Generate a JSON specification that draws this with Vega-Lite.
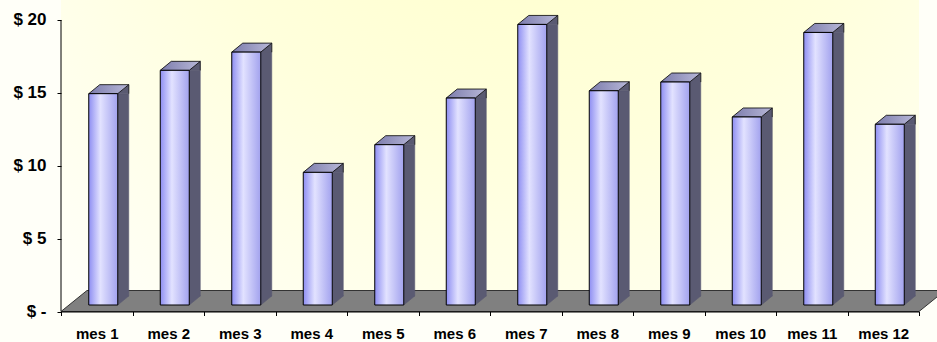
{
  "$schema": "https://vega.github.io/schema/vega-lite/v6.json",
  "autosize": {"type": "none"},
  "width": 858,
  "height": 311.5,
  "padding": {"left": 61, "top": 0, "right": 18, "bottom": 30.5},
  "background": "#fffff8",
  "config": {
    "view": {
      "stroke": null,
      "fill": {
        "gradient": "radial",
        "x1": 0.55, "y1": 0.05, "r1": 0,
        "x2": 0.55, "y2": 0.05, "r2": 0.8,
        "stops": [
          {"offset": 0, "color": "#ffffc4"},
          {"offset": 0.55, "color": "#ffffdc"},
          {"offset": 1, "color": "#fffff8"}
        ]
      }
    },
    "axis": {
      "labelFont": "Liberation Sans",
      "labelFontWeight": "bold",
      "labelColor": "#000000",
      "tickColor": "#000000",
      "domainColor": "#000000",
      "tickSize": 4,
      "title": null,
      "grid": false
    }
  },
  "data": {
    "values": [
      {"mes": "mes 1", "valor": 14.5},
      {"mes": "mes 2", "valor": 16.1},
      {"mes": "mes 3", "valor": 17.35},
      {"mes": "mes 4", "valor": 9.1},
      {"mes": "mes 5", "valor": 11.0},
      {"mes": "mes 6", "valor": 14.2},
      {"mes": "mes 7", "valor": 19.25},
      {"mes": "mes 8", "valor": 14.7},
      {"mes": "mes 9", "valor": 15.3},
      {"mes": "mes 10", "valor": 12.9},
      {"mes": "mes 11", "valor": 18.7},
      {"mes": "mes 12", "valor": 12.4}
    ]
  },
  "encoding": {
    "x": {
      "field": "mes",
      "type": "nominal",
      "sort": null,
      "scale": {"paddingInner": 0, "paddingOuter": 0},
      "axis": {
        "labelAngle": 0,
        "labelFontSize": 15,
        "labelPadding": 11,
        "tickBand": "extent",
        "zindex": 1
      }
    },
    "y": {
      "field": "valor",
      "type": "quantitative",
      "scale": {"domain": [0, 21.372], "nice": false, "zero": true},
      "axis": {
        "values": [0, 5, 10, 15, 20],
        "domain": false,
        "labelFontSize": 17,
        "labelPadding": 11,
        "labelExpr": "datum.value == 0 ? '$ -' : '$ ' + datum.value"
      }
    }
  },
  "layer": [
    {
      "description": "floor of the 3D plot, one shape anchored at the first month",
      "transform": [{"filter": "datum.mes == 'mes 1'"}],
      "mark": {
        "type": "point",
        "filled": true,
        "size": 4,
        "shape": "M -35.75 0 L 822.25 0 L 848.25 -21 L -9.75 -21 Z",
        "fill": "#808080",
        "stroke": "#333333",
        "strokeWidth": 1,
        "opacity": 1
      },
      "encoding": {
        "y": {"datum": 0, "type": "quantitative"}
      }
    },
    {
      "description": "side face of each column",
      "mark": {
        "type": "bar",
        "width": 11,
        "xOffset": 26.5,
        "yOffset": -6.5,
        "y2Offset": -15.5,
        "fill": "#5a5a72",
        "stroke": "#5a5a72",
        "strokeWidth": 0.6
      },
      "encoding": {
        "y2": {"datum": 0}
      }
    },
    {
      "description": "upper corner of the side face",
      "mark": {
        "type": "point",
        "filled": true,
        "size": 4,
        "shape": "M 21 -6.5 L 32 -15.5 L 32 -6.5 Z",
        "fill": "#5a5a72",
        "stroke": "#5a5a72",
        "strokeWidth": 0.6,
        "opacity": 1
      }
    },
    {
      "description": "lower corner of the side face",
      "mark": {
        "type": "point",
        "filled": true,
        "size": 4,
        "shape": "M 21 -15.5 L 21 -6.5 L 32 -15.5 Z",
        "fill": "#5a5a72",
        "stroke": "#5a5a72",
        "strokeWidth": 0.6,
        "opacity": 1
      },
      "encoding": {
        "y": {"datum": 0, "type": "quantitative"}
      }
    },
    {
      "description": "outline of the side face",
      "mark": {
        "type": "point",
        "filled": false,
        "size": 4,
        "shape": "M 32 -15.5 L 32 -6.5",
        "stroke": "#1a1a1a",
        "strokeWidth": 0.8,
        "opacity": 1
      }
    },
    {
      "description": "top face of each column",
      "mark": {
        "type": "point",
        "filled": true,
        "size": 4,
        "shape": "M -8 -6.5 L 21 -6.5 L 32 -15.5 L 3 -15.5 Z",
        "fill": {
          "gradient": "linear",
          "x1": 0, "y1": 0, "x2": 1, "y2": 0,
          "stops": [
            {"offset": 0, "color": "#7c7cac"},
            {"offset": 1, "color": "#b8b8d8"}
          ]
        },
        "stroke": "#000000",
        "strokeWidth": 0.8,
        "opacity": 1
      }
    },
    {
      "description": "front face of each column",
      "mark": {
        "type": "bar",
        "width": 29,
        "xOffset": 6.5,
        "yOffset": -6.5,
        "y2Offset": -6.5,
        "fill": {
          "gradient": "linear",
          "x1": 0, "y1": 0, "x2": 1, "y2": 0,
          "stops": [
            {"offset": 0, "color": "#8e8ef2"},
            {"offset": 0.4, "color": "#e2e2ff"},
            {"offset": 1, "color": "#a2a2ee"}
          ]
        },
        "stroke": "#000000",
        "strokeWidth": 1
      },
      "encoding": {
        "y2": {"datum": 0}
      }
    },
    {
      "description": "vertical value axis line",
      "transform": [{"filter": "datum.mes == 'mes 1'"}],
      "mark": {"type": "rule", "color": "#000000", "strokeWidth": 1},
      "encoding": {
        "x": {"field": "mes", "type": "nominal", "sort": null, "bandPosition": 0},
        "y": {"datum": 0, "type": "quantitative"},
        "y2": {"datum": 20}
      }
    }
  ]
}
